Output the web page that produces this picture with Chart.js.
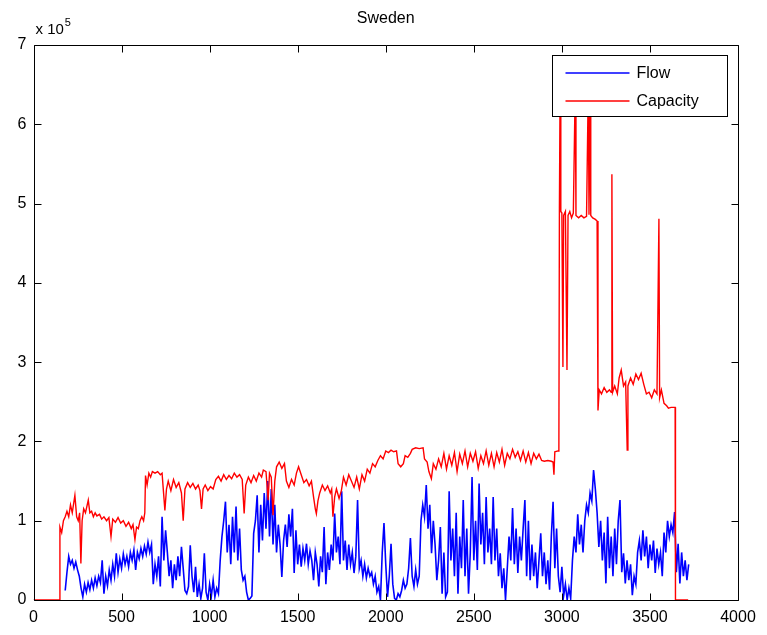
<!DOCTYPE html>
<html><head><meta charset="utf-8">
<script src="https://cdn.jsdelivr.net/npm/chart.js@4.4.1/dist/chart.umd.min.js"></script>
<style>html,body{margin:0;padding:0;background:#fff;}#wrap{width:767px;height:635px;}</style>
</head><body><div id="wrap"><canvas id="c" width="767" height="635"></canvas></div>
<script>
const chartTitle = "Sweden";
const seriesNames = ["Flow", "Capacity"];
const xTicks = [0, 500, 1000, 1500, 2000, 2500, 3000, 3500, 4000];
const yTicks = [0, 1, 2, 3, 4, 5, 6, 7];
const yExponentBase = "x 10";
const yExponent = "5";

// Flow samples (values in units of 1e5), one sample every 10 x-units starting at x = 180
const flowStartX = 180;
const flowStepX = 10;
const flowE5 = [
  0.12,0.35,0.55,0.45,0.5,0.4,0.48,0.38,0.3,0.15,
  0.04,0.2,0.1,0.22,0.13,0.25,0.15,0.28,0.18,0.3,
  0.22,0.5,0.08,0.3,0.18,0.38,0.25,0.45,0.3,0.59,
  0.35,0.52,0.4,0.58,0.45,0.55,0.42,0.6,0.5,0.63,
  0.38,0.6,0.52,0.65,0.55,0.68,0.58,0.73,0.6,0.7,
  0.2,0.45,0.3,0.55,0.17,1.05,0.5,0.88,0.6,0.3,
  0.5,0.15,0.45,0.25,0.55,0.3,0.67,0.4,0.12,0.08,
  0.17,0.69,0.3,0.1,0.42,0.04,0.2,0.02,0.15,0.59,
  0.1,0.0,0.2,0.05,0.25,0.04,0.15,0.08,0.5,0.8,
  1.0,1.24,0.6,0.95,0.45,1.05,0.6,1.18,0.5,0.9,
  0.38,0.25,0.3,0.1,0.0,0.02,0.05,0.84,1.0,1.32,
  0.6,1.2,0.75,1.35,0.9,1.5,0.8,1.4,0.7,1.2,
  0.6,0.95,0.7,0.29,0.75,0.95,0.67,1.08,0.8,1.15,
  0.34,0.88,0.45,0.7,0.42,0.65,0.5,0.71,0.45,0.62,
  0.5,0.25,0.6,0.45,0.17,0.55,0.35,0.92,0.2,0.6,
  0.38,0.7,0.5,1.09,0.6,0.8,0.45,1.37,0.5,0.75,
  0.38,0.7,0.45,0.6,0.34,0.55,1.26,0.4,0.5,0.3,
  0.45,0.28,0.4,0.3,0.35,0.2,0.3,0.1,0.17,0.0,
  0.6,0.97,0.45,0.04,0.3,0.71,0.2,0.02,0.0,0.08,
  0.04,0.12,0.25,0.15,0.2,0.4,0.78,0.3,0.17,0.38,
  0.2,0.3,1.0,1.2,1.05,1.45,0.9,1.2,0.59,1.0,
  0.7,0.25,0.5,0.92,0.08,0.6,0.04,0.1,1.37,0.5,
  0.9,0.3,1.1,0.08,0.8,0.4,1.26,0.3,0.9,0.08,
  0.6,1.55,0.5,1.0,0.38,1.47,0.7,1.1,0.45,1.3,
  0.6,0.9,0.45,1.3,0.5,0.9,0.3,0.59,0.15,0.4,
  0.0,0.4,0.8,0.5,1.16,0.45,0.9,0.34,0.8,0.5,
  0.9,1.26,0.3,1.0,0.25,0.7,0.3,0.6,0.15,0.5,
  0.84,0.3,0.6,0.2,0.5,0.13,0.8,1.24,0.4,0.9,
  0.3,0.1,0.42,0.05,0.2,0.0,0.15,0.02,0.5,0.8,
  0.6,1.08,0.7,0.95,0.6,1.0,1.2,1.1,1.35,1.25,
  1.64,1.4,1.1,0.67,1.0,0.5,0.85,0.21,1.05,0.4,
  0.8,0.3,0.9,0.45,1.0,1.26,0.35,0.59,0.21,0.5,
  0.25,0.45,0.06,0.3,0.2,0.6,0.75,0.5,0.88,0.55,
  0.8,0.4,0.7,0.5,0.75,0.34,0.65,0.45,0.6,0.3,
  0.85,0.6,1.0,0.8,0.95,0.85,1.11,0.35,0.71,0.21,
  0.6,0.3,0.5,0.25,0.45
];

// Capacity (values in units of 1e5)
const capX = [
  0,148,150,160,170,180,190,200,210,220,235,245,254,262,269,276,285,295,305,311,
  320,330,340,350,360,375,387,400,415,428,440,450,465,480,495,510,525,540,555,565,
  576,585,595,605,615,625,632,636,645,655,665,675,690,705,720,730,746,755,765,780,
  795,810,825,840,850,860,875,890,905,920,935,945,954,963,975,990,1005,1020,1035,1050,
  1065,1080,1095,1110,1125,1140,1155,1170,1185,1196,1205,1220,1235,1250,1265,1280,1295,1305,1320,1332,
  1340,1350,1360,1370,1380,1395,1410,1425,1436,1450,1465,1480,1493,1505,1520,1535,1550,1565,1578,1590,
  1600,1606,1615,1625,1640,1655,1670,1685,1693,1700,1710,1720,1735,1748,1760,1775,1790,1805,1820,1835,
  1850,1865,1880,1895,1910,1925,1940,1955,1970,1985,2000,2015,2030,2045,2061,2070,2085,2100,2110,2125,
  2140,2150,2170,2190,2212,2220,2235,2245,2259,2270,2285,2300,2315,2330,2345,2360,2375,2390,2405,2420,
  2435,2450,2465,2480,2495,2510,2525,2540,2555,2570,2585,2600,2615,2630,2645,2660,2675,2690,2705,2720,
  2735,2750,2765,2780,2795,2810,2825,2840,2855,2870,2885,2900,2920,2940,2950,2955,2960,2978,2983,2986,
  2990,2994,3000,3006,3010,3020,3029,3035,3045,3055,3065,3076,3080,3095,3110,3125,3140,3150,3154,3160,
  3164,3175,3190,3200,3205,3212,3225,3240,3255,3270,3280,3284,3288,3300,3315,3325,3337,3350,3362,3371,
  3375,3390,3405,3420,3435,3450,3465,3480,3495,3510,3525,3540,3551,3555,3565,3580,3595,3605,3620,3643,
  3645,3717
];
const capE5 = [
  0,0,0.92,0.85,1.0,1.05,1.12,1.05,1.2,1.1,1.32,1.05,1.0,1.1,0.46,1.0,1.15,1.1,1.2,1.26,
  1.1,1.12,1.05,1.1,1.06,1.08,1.02,1.05,1.0,1.04,0.8,1.02,0.98,1.04,0.97,1.0,0.93,0.98,0.9,0.95,
  0.76,0.92,0.9,1.0,1.05,1.0,1.1,1.57,1.45,1.6,1.55,1.62,1.6,1.62,1.58,1.6,1.13,1.4,1.5,1.38,
  1.52,1.42,1.48,1.35,1.0,1.4,1.48,1.42,1.47,1.4,1.45,1.38,1.15,1.4,1.45,1.38,1.43,1.4,1.52,1.56,
  1.5,1.58,1.52,1.57,1.53,1.6,1.55,1.58,1.52,1.09,1.45,1.55,1.48,1.57,1.5,1.6,1.55,1.64,1.62,1.26,
  1.6,1.55,1.07,1.5,1.68,1.74,1.66,1.72,1.5,1.42,1.52,1.45,1.6,1.68,1.58,1.48,1.52,1.44,1.5,1.3,
  1.15,1.09,1.25,1.35,1.45,1.38,1.44,1.35,1.4,1.05,1.3,1.4,1.28,1.38,1.55,1.45,1.58,1.5,1.42,1.55,
  1.4,1.58,1.5,1.65,1.6,1.72,1.68,1.76,1.82,1.78,1.88,1.86,1.89,1.87,1.88,1.72,1.68,1.72,1.82,1.8,
  1.85,1.9,1.92,1.91,1.92,1.78,1.74,1.62,1.53,1.72,1.65,1.78,1.68,1.85,1.65,1.82,1.7,1.86,1.62,1.84,
  1.72,1.88,1.68,1.85,1.75,1.87,1.66,1.82,1.72,1.88,1.7,1.85,1.68,1.86,1.74,1.9,1.7,1.85,1.78,1.9,
  1.8,1.87,1.76,1.88,1.74,1.86,1.72,1.85,1.78,1.84,1.76,1.75,1.76,1.75,1.74,1.58,1.87,1.88,1.9,4.95,
  6.5,4.9,4.88,2.94,4.85,4.9,2.9,4.85,4.9,4.82,4.88,6.5,4.85,4.82,4.85,4.82,4.84,6.5,4.86,6.5,
  4.85,4.82,4.8,4.78,2.39,2.65,2.6,2.68,2.62,2.65,2.62,5.37,2.62,2.7,2.6,2.8,2.9,2.7,2.75,1.89,
  2.7,2.8,2.72,2.85,2.78,2.86,2.72,2.6,2.62,2.55,2.65,2.6,4.81,2.55,2.65,2.48,2.45,2.42,2.43,2.43,
  0,0
];

const FONT = "'Liberation Sans', Arial, Helvetica, sans-serif";
const flowData = flowE5.map((v, i) => ({ x: flowStartX + flowStepX * i, y: v }));
const capData = capE5.map((v, i) => ({ x: capX[i], y: v }));

const matlabFrame = {
  id: 'matlabFrame',
  afterDatasetsDraw(chart) {
    const ctx = chart.ctx;
    const a = chart.chartArea;
    const xs = chart.scales.x, ys = chart.scales.y;
    const L = Math.round(a.left) + 0.5, R = Math.round(a.right) + 0.5;
    const T = Math.round(a.top) + 0.5, B = Math.round(a.bottom) + 0.5;
    ctx.save();
    ctx.strokeStyle = '#000';
    ctx.lineWidth = 1;
    ctx.beginPath();
    ctx.rect(L, T, R - L, B - T);
    const tl = 7;
    xTicks.forEach(t => {
      const px = Math.round(xs.getPixelForValue(t)) + 0.5;
      ctx.moveTo(px, B); ctx.lineTo(px, B - tl);
      ctx.moveTo(px, T); ctx.lineTo(px, T + tl);
    });
    yTicks.forEach(t => {
      const py = Math.round(ys.getPixelForValue(t)) + 0.5;
      ctx.moveTo(L, py); ctx.lineTo(L + tl, py);
      ctx.moveTo(R, py); ctx.lineTo(R - tl, py);
    });
    ctx.stroke();

    // title
    ctx.fillStyle = '#000';
    ctx.font = '16px ' + FONT;
    ctx.textAlign = 'center';
    ctx.textBaseline = 'middle';
    ctx.fillText(chartTitle, (a.left + a.right) / 2, 19);
    // exponent label
    ctx.font = '15px ' + FONT;
    ctx.textAlign = 'left';
    ctx.textBaseline = 'alphabetic';
    ctx.fillText(yExponentBase, a.left + 2, 34);
    const w = ctx.measureText(yExponentBase).width;
    ctx.font = '11px ' + FONT;
    ctx.fillText(yExponent, a.left + 3 + w, 26);

    // legend
    const bx = Math.round(a.right - 186) + 0.5, by = Math.round(a.top + 10) + 0.5;
    const bw = 175, bh = 61;
    ctx.fillStyle = '#fff';
    ctx.fillRect(bx, by, bw, bh);
    ctx.strokeStyle = '#000';
    ctx.lineWidth = 1;
    ctx.strokeRect(bx, by, bw, bh);
    chart.data.datasets.forEach((ds, i) => {
      const ly = Math.round(by + 17 + i * 28);
      ctx.strokeStyle = ds.borderColor;
      ctx.lineWidth = 1.3;
      ctx.beginPath();
      ctx.moveTo(bx + 13, ly);
      ctx.lineTo(bx + 77, ly);
      ctx.stroke();
      ctx.fillStyle = '#000';
      ctx.font = '16px ' + FONT;
      ctx.textAlign = 'left';
      ctx.textBaseline = 'middle';
      ctx.fillText(ds.label, bx + 84, ly + 1);
    });
    ctx.restore();
  }
};

new Chart(document.getElementById('c'), {
  type: 'line',
  data: {
    datasets: [
      { label: seriesNames[0], data: flowData, borderColor: '#0000ff', borderWidth: 1.6, pointRadius: 0, tension: 0, fill: false, order: 1 },
      { label: seriesNames[1], data: capData, borderColor: '#ff0000', borderWidth: 1.4, pointRadius: 0, tension: 0, fill: false, order: 0 }
    ]
  },
  options: {
    responsive: false,
    animation: false,
    devicePixelRatio: 1,
    layout: { padding: { top: 45, right: 29, left: 0, bottom: 0 } },
    plugins: { legend: { display: false }, title: { display: false }, tooltip: { enabled: false } },
    scales: {
      x: {
        type: 'linear', min: 0, max: 4000,
        afterBuildTicks: s => { s.ticks = xTicks.map(v => ({ value: v })); },
        ticks: { color: '#000', font: { family: FONT, size: 16 }, padding: 8, maxRotation: 0, autoSkip: false, callback: v => String(v) },
        grid: { display: false, drawTicks: false },
        border: { display: false },
        afterFit: s => { s.height = 35; }
      },
      y: {
        type: 'linear', min: 0, max: 7,
        afterBuildTicks: s => { s.ticks = yTicks.map(v => ({ value: v })); },
        ticks: { color: '#000', font: { family: FONT, size: 16 }, padding: 7, callback: v => String(v) },
        grid: { display: false, drawTicks: false },
        border: { display: false },
        afterFit: s => { s.width = 33.5; }
      }
    }
  },
  plugins: [matlabFrame]
});
</script>
</body></html>
